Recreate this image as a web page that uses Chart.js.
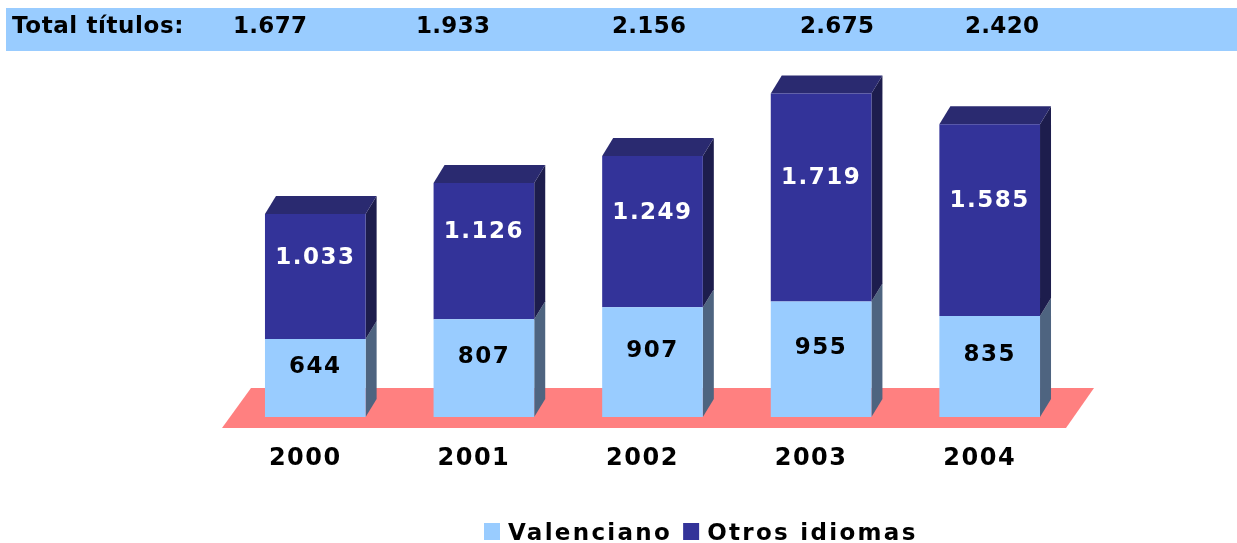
<!DOCTYPE html>
<html>
<head>
<meta charset="utf-8">
<script src="https://cdn.jsdelivr.net/npm/chart.js@4"></script>
<style>
  html, body { margin: 0; padding: 0; background: #fff; }
  #wrap { width: 1237px; height: 543px; }
</style>
</head>
<body>
<div id="wrap"><canvas id="chart" width="1237" height="543"></canvas></div>
<script>
// data
const years = ['2000', '2001', '2002', '2003', '2004'];
const valenciano = [644, 807, 907, 955, 835];
const otrosIdiomas = [1033, 1126, 1249, 1719, 1585];
const totalTitulos = [1677, 1933, 2156, 2675, 2420];
const seriesNames = ['Valenciano', 'Otros idiomas'];
const totalLabel = 'Total títulos:';
const yMax = 3000;

// look
const FONT = "'DejaVu Sans', Verdana, sans-serif";
const colValFront = '#99CCFF';
const colValSide = '#4E6480';
const colOtrFront = '#333399';
const colOtrTop = '#2A2A70';
const colOtrSide = '#1D1D4D';
const colFloor = '#FF8080';
const depthX = 11, depthY = 18;
const headerTextX = [233, 416, 612, 800, 965];

// "1677" -> "1.677"
function fmt(n) {
  return String(n).replace(/\B(?=(\d{3})+(?!\d))/g, '.');
}

const threeD = {
  id: 'threeD',
  beforeDraw(chart) {
    const ctx = chart.ctx;
    // header band with the totals
    ctx.save();
    ctx.fillStyle = '#99CCFF';
    ctx.fillRect(6, 8, 1231, 43);
    ctx.fillStyle = '#000';
    ctx.font = 'bold 23px ' + FONT;
    ctx.textBaseline = 'alphabetic';
    ctx.textAlign = 'left';
    ctx.letterSpacing = '0.6px';
    ctx.fillText(totalLabel, 12, 33);
    ctx.letterSpacing = '0.3px';
    totalTitulos.forEach((t, i) => ctx.fillText(fmt(t), headerTextX[i], 33));
    ctx.restore();
  },
  beforeDatasetsDraw(chart) {
    const ctx = chart.ctx;
    const area = chart.chartArea;
    ctx.save();
    // floor
    ctx.fillStyle = colFloor;
    ctx.beginPath();
    ctx.moveTo(area.left - 9, area.bottom + 11);
    ctx.lineTo(area.right - 8, area.bottom + 11);
    ctx.lineTo(area.right + 20, area.bottom - 29);
    ctx.lineTo(area.left + 20, area.bottom - 29);
    ctx.closePath();
    ctx.fill();

    // side faces and top face of each stack
    const metas = [chart.getDatasetMeta(0), chart.getDatasetMeta(1)];
    const sides = [colValSide, colOtrSide];
    years.forEach((y, i) => {
      metas.forEach((meta, d) => {
        const bar = meta.data[i];
        const right = bar.x + bar.width / 2;
        ctx.fillStyle = sides[d];
        ctx.beginPath();
        ctx.moveTo(right, bar.base);
        ctx.lineTo(right + depthX, bar.base - depthY);
        ctx.lineTo(right + depthX, bar.y - depthY);
        ctx.lineTo(right, bar.y);
        ctx.closePath();
        ctx.fill();
      });
      const top = metas[1].data[i];
      const l = top.x - top.width / 2, r = top.x + top.width / 2;
      ctx.fillStyle = colOtrTop;
      ctx.beginPath();
      ctx.moveTo(l, top.y);
      ctx.lineTo(r, top.y);
      ctx.lineTo(r + depthX, top.y - depthY);
      ctx.lineTo(l + depthX, top.y - depthY);
      ctx.closePath();
      ctx.fill();
    });
    ctx.restore();
  },
  afterDatasetsDraw(chart) {
    const ctx = chart.ctx;
    const area = chart.chartArea;
    const xScale = chart.scales.x;
    ctx.save();
    ctx.textAlign = 'center';
    ctx.textBaseline = 'middle';
    ctx.letterSpacing = '1.5px';
    ctx.font = 'bold 23px ' + FONT;

    // value labels in the segments
    const metas = [chart.getDatasetMeta(0), chart.getDatasetMeta(1)];
    const txtCol = ['#000000', '#FFFFFF'];
    const lift = [11, 19];
    metas.forEach((meta, d) => {
      const values = chart.data.datasets[d].data;
      meta.data.forEach((bar, i) => {
        ctx.fillStyle = txtCol[d];
        ctx.fillText(fmt(values[i]), bar.x, (bar.y + bar.base) / 2 - lift[d]);
      });
    });

    // year labels
    ctx.fillStyle = '#000';
    ctx.font = 'bold 24px ' + FONT;
    years.forEach((y, i) => {
      ctx.fillText(y, xScale.getPixelForTick(i) - 10, area.bottom + 42);
    });

    // legend
    ctx.textAlign = 'left';
    ctx.textBaseline = 'alphabetic';
    ctx.letterSpacing = '2.3px';
    ctx.font = 'bold 23px ' + FONT;
    const boxCols = [colValFront, colOtrFront];
    let x = 484;
    seriesNames.forEach((name, d) => {
      ctx.fillStyle = boxCols[d];
      ctx.fillRect(x, 523, 16, 17);
      ctx.fillStyle = '#000';
      ctx.fillText(name, x + 24, 540);
      x += 24 + ctx.measureText(name).width + 11;
    });
    ctx.restore();
  }
};

new Chart(document.getElementById('chart'), {
  type: 'bar',
  data: {
    labels: years,
    datasets: [
      { label: seriesNames[0], data: valenciano, backgroundColor: colValFront, borderWidth: 0 },
      { label: seriesNames[1], data: otrosIdiomas, backgroundColor: colOtrFront, borderWidth: 0 }
    ]
  },
  options: {
    responsive: false,
    devicePixelRatio: 1,
    animation: false,
    layout: { padding: { left: 231, right: 163, top: 54, bottom: 126 } },
    datasets: { bar: { barPercentage: 0.597, categoryPercentage: 1 } },
    scales: {
      x: { display: false, stacked: true },
      y: { display: false, stacked: true, min: 0, max: yMax }
    },
    plugins: {
      legend: { display: false },
      tooltip: { enabled: false }
    }
  },
  plugins: [threeD]
});
</script>
</body>
</html>
